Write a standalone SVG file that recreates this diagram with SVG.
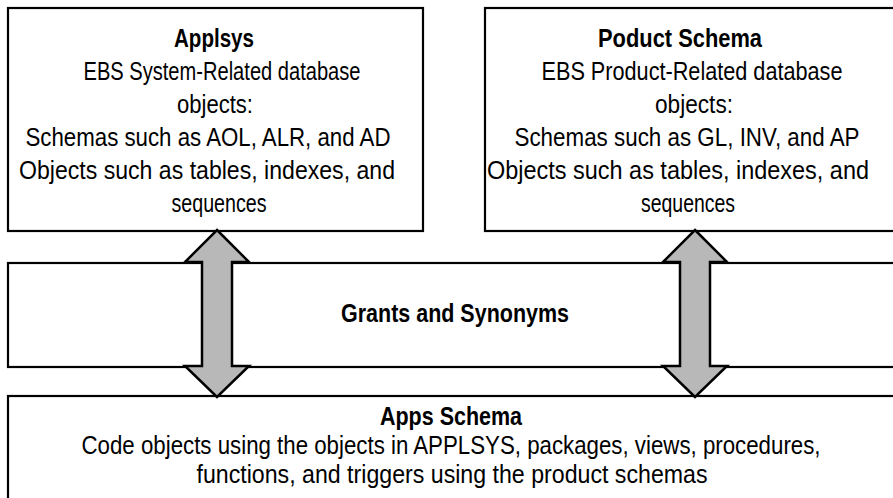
<svg xmlns="http://www.w3.org/2000/svg" width="893" height="498" viewBox="0 0 893 498">
<style>
.box{fill:#fff;stroke:#000;stroke-width:2.2}
.t{font-family:"Liberation Sans Narrow","Liberation Sans",Arial,sans-serif;font-size:26px;fill:#000;text-anchor:middle}
.b{font-weight:bold}
.arrow{fill:#b8b8b8;stroke:#000;stroke-width:2.5;stroke-linejoin:miter}
</style>
<rect width="893" height="498" fill="#fff"/>
<g id="applsys">
<rect class="box" x="8" y="8" width="415" height="223"/>
<text class="t b" x="214" y="47" textLength="80" lengthAdjust="spacingAndGlyphs">Applsys</text>
<text class="t" x="222" y="80" textLength="277" lengthAdjust="spacingAndGlyphs">EBS System-Related database</text>
<text class="t" x="215" y="113" textLength="76" lengthAdjust="spacingAndGlyphs">objects:</text>
<text class="t" x="208" y="146" textLength="365" lengthAdjust="spacingAndGlyphs">Schemas such as AOL, ALR, and AD</text>
<text class="t" x="207" y="179" textLength="376" lengthAdjust="spacingAndGlyphs">Objects such as tables, indexes, and</text>
<text class="t" x="219" y="212" textLength="95" lengthAdjust="spacingAndGlyphs">sequences</text>
</g>
<g id="product">
<rect class="box" x="485" y="8" width="420" height="223"/>
<text class="t b" x="680" y="47" textLength="164" lengthAdjust="spacingAndGlyphs">Poduct Schema</text>
<text class="t" x="692" y="80" textLength="301" lengthAdjust="spacingAndGlyphs">EBS Product-Related database</text>
<text class="t" x="694" y="113" textLength="78" lengthAdjust="spacingAndGlyphs">objects:</text>
<text class="t" x="687" y="146" textLength="345" lengthAdjust="spacingAndGlyphs">Schemas such as GL, INV, and AP</text>
<text class="t" x="678" y="179" textLength="382" lengthAdjust="spacingAndGlyphs">Objects such as tables, indexes, and</text>
<text class="t" x="688" y="212" textLength="94" lengthAdjust="spacingAndGlyphs">sequences</text>
</g>
<g id="grants">
<rect class="box" x="8" y="263" width="900" height="104"/>
<text class="t b" x="455" y="322" textLength="228" lengthAdjust="spacingAndGlyphs">Grants and Synonyms</text>
</g>
<g id="apps">
<rect class="box" x="8" y="396" width="900" height="120"/>
<text class="t b" x="451" y="425" textLength="142" lengthAdjust="spacingAndGlyphs">Apps Schema</text>
<text class="t" x="451" y="454" textLength="739" lengthAdjust="spacingAndGlyphs">Code objects using the objects in APPLSYS, packages, views, procedures,</text>
<text class="t" x="452" y="483" textLength="511" lengthAdjust="spacingAndGlyphs">functions, and triggers using the product schemas</text>
</g>
<g id="connectors">
<polygon class="arrow" points="217,230 249,262 232,262 232,366 249,366 217,397 185,366 202,366 202,262 185,262"/>
<polygon class="arrow" points="695,230 727,262 710,262 710,366 727,366 695,397 663,366 680,366 680,262 663,262"/>
</g>
</svg>
